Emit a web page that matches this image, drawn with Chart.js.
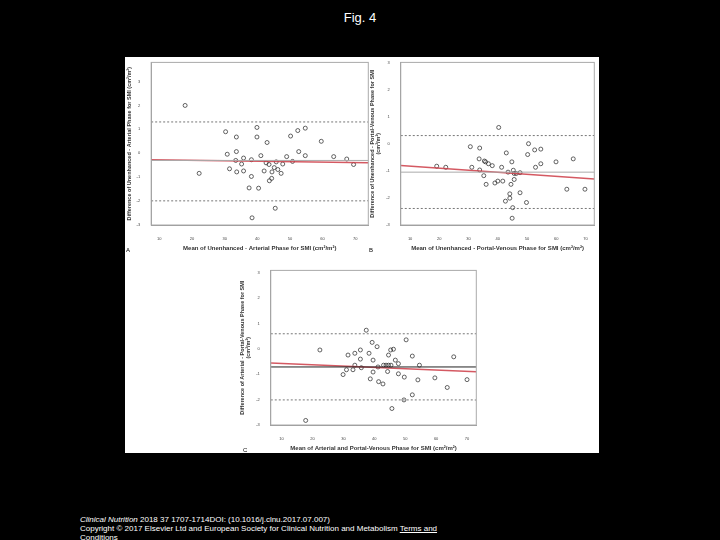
<!DOCTYPE html>
<html><head><meta charset="utf-8">
<script src="https://cdn.jsdelivr.net/npm/chart.js@4"></script>
<style>
body{margin:0;background:#000;width:720px;height:540px;position:relative;overflow:hidden;font-family:"Liberation Sans",Arial,sans-serif}
#title{position:absolute;top:10px;width:720px;text-align:center;color:#fff;font-size:13px}
#panel{position:absolute;left:125px;top:57px;width:474px;height:396px;background:#fff}
canvas{position:absolute}
.lab{position:absolute;font-size:6px;color:#000}
#cap{position:absolute;left:80px;top:515px;color:#fff;font-size:8px;line-height:9px}
#cap a{color:#fff}
</style></head><body>
<div id="title">Fig. 4</div>
<div id="panel">
<div style="position:absolute;left:0;top:0;width:248px;height:196px"><canvas id="ca"></canvas></div>
<div style="position:absolute;left:243px;top:0;width:231px;height:196px"><canvas id="cb"></canvas></div>
<div style="position:absolute;left:113px;top:208px;width:243px;height:188px"><canvas id="cc"></canvas></div>
<div class="lab" style="left:1px;top:190px">A</div>
<div class="lab" style="left:244px;top:190px">B</div>
<div class="lab" style="left:118px;top:390px">C</div>
</div>
<div id="cap"><i>Clinical Nutrition</i> 2018 37 1707-1714DOI: (10.1016/j.clnu.2017.07.007)<br>Copyright © 2017 Elsevier Ltd and European Society for Clinical Nutrition and Metabolism <a href="#">Terms and<br>Conditions</a></div>
<script>
// panel A: unenhanced - arterial
const aX = [17.9,22.2,30.3,30.8,31.5,33.6,33.6,33.4,33.7,35.2,35.8,35.8,37.5,38.2,38.2,38.4,39.9,39.9,40.4,41.1,42.1,43,42.7,43.6,43.7,44.4,44.5,45.2,45.5,45.8,46.3,47.3,47.8,49,50.2,50.8,52.4,52.7,54.7,54.7,59.6,63.4,67.4,69.5];
const aY = [2.0,-0.84,0.9,-0.04,-0.65,0.68,0.07,-0.3,-0.78,-0.45,-0.2,-0.74,-1.45,-0.27,-0.97,-2.7,1.08,0.68,-1.46,-0.1,-0.74,0.45,-0.4,-0.47,-1.15,-1.05,-0.78,-0.6,-2.3,-0.36,-0.68,-0.84,-0.45,-0.14,0.72,-0.34,0.95,0.07,1.05,-0.1,0.5,-0.14,-0.24,-0.47];
const aMean = -0.3, aLoa = [1.31,-1.99], aFit = [-0.27,-0.4];
// panel B: unenhanced - portal-venous
const bX = [19.1,22.2,30.6,31.1,33.8,33.6,33.8,35.4,35.8,35.2,36.0,36.8,38.1,39.0,40.3,40.0,41.3,41.7,42.9,42.6,43.5,44.1,44.1,44.8,44.5,45.1,45.3,45.6,44.9,45.6,46.3,47.6,47.6,49.8,50.5,50.2,52.6,52.9,54.7,54.7,59.9,63.6,65.8,69.8];
const bY = [-0.83,-0.87,-0.11,-0.87,-0.16,-0.56,-0.97,-0.64,-0.67,-1.18,-1.5,-0.74,-0.81,-1.45,0.6,-1.38,-0.87,-1.38,-0.34,-2.12,-1.05,-1.85,-2.01,-0.67,-1.5,-2.36,-0.98,-1.32,-2.75,-1.1,-1.1,-1.07,-1.81,-2.17,0,-0.4,-0.23,-0.87,-0.2,-0.74,-0.67,-1.68,-0.56,-1.68];
const bMean = -1.05, bLoa = [0.3,-2.39], bFit = [-0.8,-1.3];
// panel C: arterial - portal-venous
const cX = [17.8,22.4,29.9,31.0,31.5,33.1,33.7,33.7,35.5,35.5,35.8,37.4,38.3,38.7,39.3,39.6,39.6,40.9,41.2,41.4,42.8,43.0,43.8,44.3,44.6,44.6,45.3,45.4,45.7,46.2,46.8,47.8,47.8,49.7,49.6,50.3,52.3,52.3,54.1,54.6,59.6,63.6,65.7,70];
const cY = [-2.82,-0.04,-1.01,-0.82,-0.24,-0.82,-0.17,-0.64,-0.04,-0.4,-0.74,0.74,-0.17,-1.18,0.26,-0.44,-0.91,0.09,-0.71,-1.29,-1.38,-0.64,-0.64,-0.89,-0.24,-0.64,-0.04,-0.64,-2.35,-0.01,-0.44,-0.58,-0.98,-1.11,-2.01,0.36,-0.28,-1.81,-1.22,-0.64,-1.14,-1.52,-0.31,-1.21];
const cMean = -0.71, cLoa = [0.6,-2.01], cFit = [-0.55,-0.9];
const yTicks = [3,2,1,0,-1,-2,-3];

// grey frame around the plot area
const frame = {
  id: 'frame',
  afterDraw(chart) {
    const a = chart.chartArea, ctx = chart.ctx;
    ctx.save();
    ctx.strokeStyle = '#aaa';
    ctx.lineWidth = 1;
    ctx.strokeRect(a.left, a.top, a.right - a.left, a.bottom - a.top);
    ctx.restore();
  }
};

function bland(id, xs, ys, mean, loa, fit, xmin, xmax, ymin, ymax, xTitle, yTitle, meanColor) {
  const pts = xs.map((x, i) => ({x: x, y: ys[i]}));
  const hline = (v, color, dash, w) => ({type: 'line', data: [{x: xmin, y: v}, {x: xmax, y: v}], borderColor: color, borderDash: dash, borderWidth: w, pointRadius: 0});
  new Chart(document.getElementById(id), {
    type: 'scatter',
    data: {datasets: [
      hline(loa[0], '#777', [2, 2], 1),
      hline(loa[1], '#777', [2, 2], 1),
      hline(mean, meanColor, [], 1),
      {type: 'line', data: [{x: xmin, y: fit[0]}, {x: xmax, y: fit[1]}], borderColor: 'rgba(205,60,70,0.85)', borderWidth: 1.5, pointRadius: 0},
      {data: pts, pointRadius: 2, pointStyle: 'circle', backgroundColor: 'transparent', borderColor: '#222', borderWidth: 0.7}
    ]},
    options: {
      animation: false, responsive: true, maintainAspectRatio: false,
      plugins: {legend: {display: false}, tooltip: {enabled: false}},
      scales: {
        x: {type: 'linear', min: xmin, max: xmax, grid: {display: false},
            border: {color: '#999'},
            afterBuildTicks: s => { s.ticks = [10,20,30,40,50,60,70].map(v => ({value: v})); },
            ticks: {font: {size: 4}, color: '#444'},
            title: {display: true, text: xTitle, font: {size: 6, weight: 'bold'}, color: '#333', padding: 1}},
        y: {min: ymin, max: ymax, grid: {display: false},
            border: {color: '#999'},
            afterBuildTicks: s => { s.ticks = yTicks.map(v => ({value: v})); },
            ticks: {font: {size: 4}, color: '#444'},
            title: {display: true, text: yTitle, font: {size: 5.5, weight: 'bold'}, color: '#333', padding: 1}}
      }
    },
    plugins: [frame]
  });
}
bland('ca', aX, aY, aMean, aLoa, aFit, 7.5, 74, -3, 3.8,
  'Mean of Unenhanced - Arterial Phase for SMI (cm²/m²)',
  'Difference of Unenhanced - Arterial Phase for SMI (cm²/m²)', '#aaa');
bland('cb', bX, bY, bMean, bLoa, bFit, 6.8, 73, -3, 3.0,
  'Mean of Unenhanced - Portal-Venous Phase for SMI (cm²/m²)',
  ['Difference of Unenhanced - Portal-Venous Phase for SMI', '(cm²/m²)'], '#aaa');
bland('cc', cX, cY, cMean, cLoa, cFit, 6.5, 73, -3, 3.1,
  'Mean of Arterial and Portal-Venous Phase for SMI (cm²/m²)',
  ['Difference of Arterial - Portal-Venous Phase for SMI', '(cm²/m²)'], '#222');
</script>
</body></html>
